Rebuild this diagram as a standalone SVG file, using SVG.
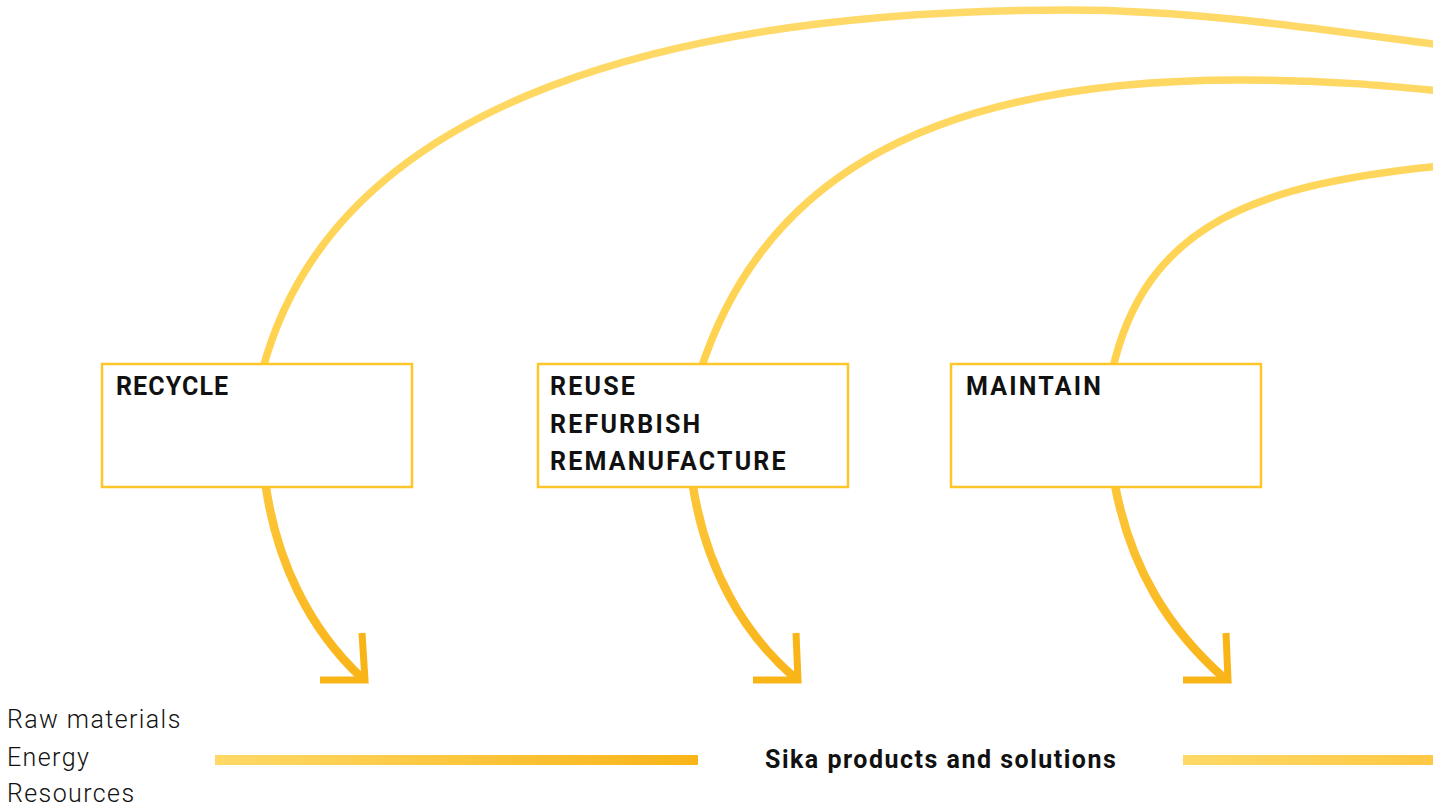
<svg xmlns="http://www.w3.org/2000/svg" width="1433" height="811" viewBox="0 0 1433 811">
<style>
.arc{fill:none;stroke:url(#gv);stroke-width:7.5;stroke-linecap:butt}
.low{fill:none;stroke:url(#gv);stroke-width:8.5;stroke-linecap:butt}
.head{fill:none;stroke:#F9B418;stroke-width:7;stroke-linecap:butt;stroke-linejoin:miter}
.box{fill:#fff;stroke:#FFC629;stroke-width:2.5}
.lbl{font-family:"Roboto","Liberation Sans",sans-serif;font-weight:bold;font-size:25px;fill:#111;letter-spacing:2.2px}
.sika{font-family:"Roboto","Liberation Sans",sans-serif;font-weight:bold;font-size:25px;fill:#111;letter-spacing:1.5px}
.src{font-family:"Roboto","Liberation Sans",sans-serif;font-weight:300;font-size:25px;fill:#111;letter-spacing:1.4px}
</style>
<defs>
<linearGradient id="gv" gradientUnits="userSpaceOnUse" x1="0" y1="0" x2="0" y2="690">
<stop offset="0" stop-color="#FFDA6A"/>
<stop offset="0.5" stop-color="#FFD24F"/>
<stop offset="1" stop-color="#F9B418"/>
</linearGradient>
<linearGradient id="gh1" x1="0" y1="0" x2="1" y2="0">
<stop offset="0" stop-color="#FFD966"/>
<stop offset="1" stop-color="#F9B418"/>
</linearGradient>
<linearGradient id="gh2" x1="0" y1="0" x2="1" y2="0">
<stop offset="0" stop-color="#FFD966"/>
<stop offset="1" stop-color="#FFC844"/>
</linearGradient>
</defs>
<rect width="1433" height="811" fill="#fff"/>
<g id="connectors">
<path class="arc" d="M262,372 C335,92 690,10 1070,10 C1190,10 1320,29 1440,45"/>
<path class="low" d="M265,480 C275,560 310,630 362,678"/>
<path class="head" d="M362,633 L365,680 L320,680"/>
<path class="arc" d="M700,372 C757.6,192 910,80 1240,80 C1330,80 1390,86 1440,91"/>
<path class="low" d="M692,480 C705,570 745,635 795,678"/>
<path class="head" d="M796,633 L798,680 L753,680"/>
<path class="arc" d="M1112,372 C1145,222 1260,184 1440,166"/>
<path class="low" d="M1114,480 C1130,570 1170,630 1224,678"/>
<path class="head" d="M1226,633 L1228,680 L1183,680"/>
<rect x="215" y="755" width="483" height="10" fill="url(#gh1)"/>
<rect x="1183" y="755" width="250" height="10" fill="url(#gh2)"/>
</g>
<g id="node-recycle">
<rect class="box" x="102" y="364" width="310" height="123"/>
<text class="lbl" x="116" y="395" style="letter-spacing:1.1px">RECYCLE</text>
</g>
<g id="node-reuse">
<rect class="box" x="538" y="364" width="310" height="123"/>
<text class="lbl" x="550" y="395">REUSE</text>
<text class="lbl" x="550" y="433">REFURBISH</text>
<text class="lbl" x="550" y="470">REMANUFACTURE</text>
</g>
<g id="node-maintain">
<rect class="box" x="951" y="364" width="310" height="123"/>
<text class="lbl" x="966" y="395">MAINTAIN</text>
</g>
<g id="node-inputs">
<text class="src" x="7" y="728">Raw materials</text>
<text class="src" x="7" y="766">Energy</text>
<text class="src" x="7" y="802">Resources</text>
</g>
<g id="node-sika">
<text class="sika" x="765" y="768">Sika products and solutions</text>
</g>
</svg>
